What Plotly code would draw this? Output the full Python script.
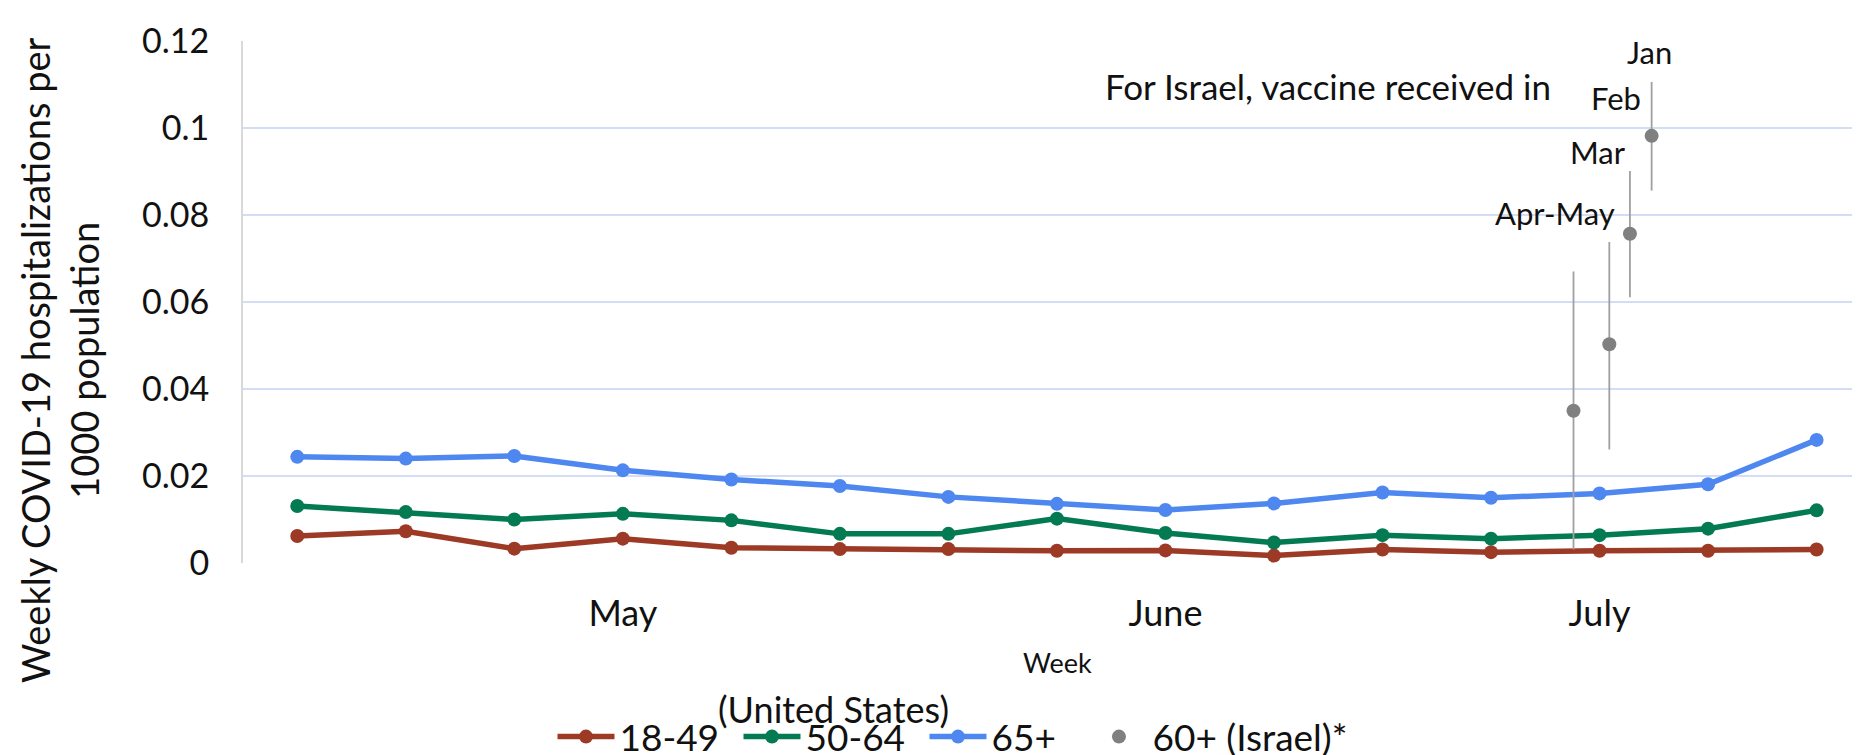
import plotly.graph_objects as go

# weekly US rates, weeks 1..15 (roughly mid-April to late July)
weeks = list(range(1, 16))
month_ticks = [4, 9, 13]
month_labels = ["May", "June", "July"]

us_18_49 = [0.0062, 0.0073, 0.0033, 0.0056, 0.0035, 0.0032, 0.0032, 0.0028,
            0.0029, 0.0017, 0.0031, 0.0025, 0.0028, 0.0028, 0.0031]
us_50_64 = [0.0131, 0.0117, 0.0100, 0.0113, 0.0098, 0.0067, 0.0067, 0.0102,
            0.0069, 0.0047, 0.0064, 0.0056, 0.0064, 0.0079, 0.0121]
us_65_plus = [0.0244, 0.0240, 0.0246, 0.0213, 0.0192, 0.0177, 0.0152, 0.0136,
              0.0122, 0.0137, 0.0162, 0.0150, 0.0160, 0.0181, 0.0283]

# Israel 60+, by month of vaccination
israel_groups = ["Apr-May", "Mar", "Feb", "Jan"]
israel_week = [12.76, 13.09, 13.28, 13.48]
israel_rate = [0.0350, 0.0503, 0.0757, 0.0982]
israel_upper = [0.0670, 0.0738, 0.0901, 0.1106]
israel_lower = [0.0031, 0.0261, 0.0611, 0.0856]

FONT = "Lato, 'Open Sans', sans-serif"

fig = go.Figure()

series = [
    ("18-49", us_18_49, "#9c3a26"),
    ("50-64", us_50_64, "#047a52"),
    ("65+", us_65_plus, "#4e87ef"),
]
for name, vals, color in series:
    fig.add_trace(go.Scatter(
        x=weeks, y=vals, name=name, mode="lines+markers",
        line=dict(color=color, width=5.5),
        marker=dict(color=color, size=14),
        legend="legend",
    ))

fig.add_trace(go.Scatter(
    x=israel_week, y=israel_rate, name="60+ (Israel)*", mode="markers",
    marker=dict(color="#808080", size=14),
    error_y=dict(
        type="data", symmetric=False,
        array=[u - r for u, r in zip(israel_upper, israel_rate)],
        arrayminus=[r - l for r, l in zip(israel_rate, israel_lower)],
        color="#a0a0a0", thickness=1.8, width=0,
    ),
    legend="legend2",
))

# month labels next to the Israel points
label_x = [12.59, 12.99, 13.15, 13.46]
label_y = [0.0805, 0.0945, 0.1070, 0.1175]
for text, lx, ly in zip(israel_groups, label_x, label_y):
    fig.add_annotation(x=lx, y=ly, text=text, showarrow=False,
                       font=dict(size=31, color="#111"))

fig.add_annotation(x=10.5, y=0.1097, text="For Israel, vaccine received in",
                   showarrow=False, font=dict(size=35, color="#111"))

fig.add_annotation(xref="paper", yref="paper", x=-0.1132, y=0.389,
                   xanchor="center", yanchor="middle",
                   text="Weekly COVID-19 hospitalizations per<br>1000 population",
                   textangle=-90, showarrow=False,
                   font=dict(size=38, color="#111"))
fig.add_annotation(xref="paper", yref="paper", x=0.504, y=-0.19,
                   xanchor="center", yanchor="middle",
                   text="Week", showarrow=False,
                   font=dict(size=27, color="#111"))
fig.add_annotation(xref="paper", yref="paper", x=0.365, y=-0.28,
                   xanchor="center", yanchor="middle",
                   text="(United States)", showarrow=False,
                   font=dict(size=36, color="#111"))

legend_common = dict(
    orientation="h", xanchor="left",
    yref="container", y=0.0344, yanchor="middle",
    font=dict(size=37), itemwidth=57, tracegroupgap=0,
    bgcolor="rgba(0,0,0,0)",
)

# the page body adds an 8px offset, so margins are trimmed by 8 here
fig.update_layout(
    width=1860, height=755,
    margin=dict(l=235, r=8, t=33, b=200, autoexpand=False),
    paper_bgcolor="white", plot_bgcolor="white",
    font=dict(family=FONT, color="#111"),
    showlegend=True,
    legend=dict(legend_common, x=0.1914, entrywidth=114),
    legend2=dict(legend_common, x=0.521),
    xaxis=dict(
        range=[0.5, 15.4], tickvals=month_ticks, ticktext=month_labels,
        showgrid=False, zeroline=False, showline=False, ticks="",
        ticklabelstandoff=26, tickfont=dict(size=36),
    ),
    yaxis=dict(
        range=[0, 0.12], dtick=0.02, tickformat="~g",
        gridcolor="#d3def6", gridwidth=1.5, zeroline=False,
        showline=True, linecolor="#d9d9d9", linewidth=2,
        ticks="", ticklabelstandoff=25, tickfont=dict(size=34),
    ),
)

fig.write_html("out.html")
